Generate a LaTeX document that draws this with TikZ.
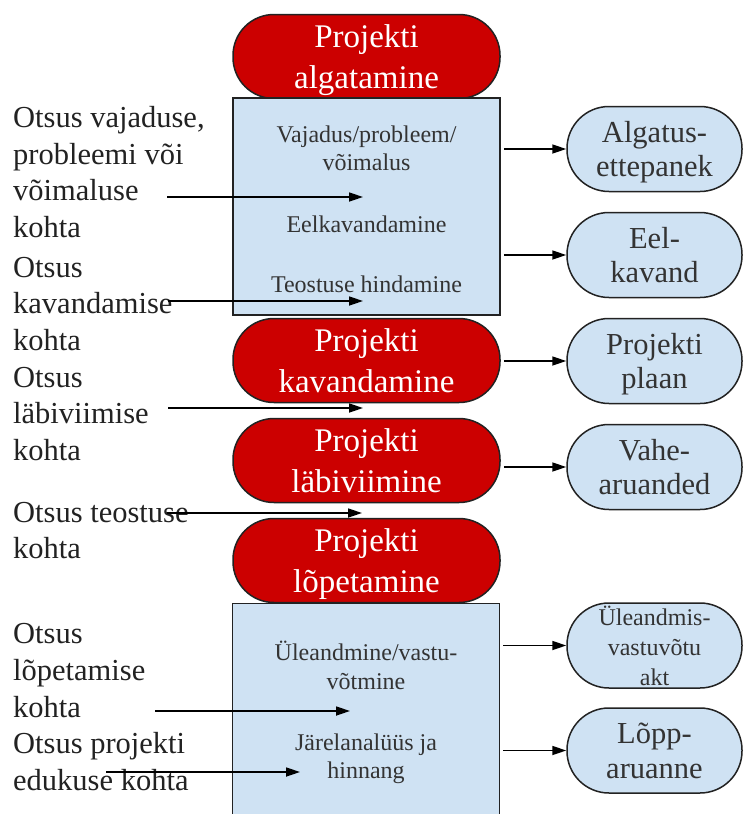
\documentclass[tikz,border=0pt]{standalone}
\usepackage{fontspec}
\setmainfont{Liberation Serif}
\usetikzlibrary{arrows.meta}
\definecolor{pillred}{HTML}{CC0000}
\definecolor{paleblue}{HTML}{CFE2F3}
\definecolor{ink}{HTML}{222222}
\definecolor{softink}{HTML}{333333}
\begin{document}
\begin{tikzpicture}[x=1pt,y=-1pt,
  redpill/.style={draw=ink, line width=1.5pt, fill=pillred, rounded corners=41pt,
    minimum width=267pt, minimum height=84pt, text=white, align=center,
    font=\fontsize{33}{40.5}\selectfont, inner sep=0pt},
  bluebox/.style={draw=ink, line width=1.5pt, fill=paleblue, minimum width=267pt,
    minimum height=217pt, inner sep=0pt},
  outpill/.style={draw=ink, line width=1.5pt, fill=paleblue, rounded corners=42pt,
    minimum width=175pt, minimum height=85pt, text=softink, align=center,
    font=\fontsize{30.5}{34.5}\selectfont, inner sep=0pt},
  boxtext/.style={anchor=base, text=softink, font=\fontsize{24}{28.5}\selectfont, inner sep=0pt},
  sidetext/.style={anchor=base west, text=ink, font=\fontsize{30.5}{36.7}\selectfont, inner sep=0pt},
  arr/.style={draw=black, line width=1.7pt, -{Triangle[length=14pt,width=9pt]}},
]
\clip (0,0) rectangle (745,814);
\fill[white] (0,0) rectangle (745,814);

% central column
\node[redpill] (p1) at (366.5,56.5) {Projekti\\\smash{algatamine}};
\node[bluebox] (box1) at (366.5,206.5) {};
\node[redpill] (p2) at (366.5,360.5) {Projekti\\\smash{kavandamine}};
\node[redpill] (p3) at (366.5,460.5) {Projekti\\\smash{läbiviimine}};
\node[redpill] (p4) at (366.5,560.5) {Projekti\\\smash{lõpetamine}};
\node[bluebox] (box2) at (366,712) {};

% texts inside boxes
\node[boxtext] (b1a) at (366.5,142) {Vajadus/probleem/};
\node[boxtext] (b1b) at (366.5,170) {võimalus};
\node[boxtext] (b1c) at (366.5,232) {Eelkavandamine};
\node[boxtext] (b1d) at (366.5,292) {Teostuse hindamine};
\node[boxtext] (b2a) at (366,660) {Üleandmine/vastu-};
\node[boxtext] (b2b) at (366,689) {võtmine};
\node[boxtext] (b2c) at (366,750) {Järelanalüüs ja};
\node[boxtext] (b2d) at (366,778) {hinnang};

% output pills
\node[outpill] (r1) at (654.5,149) {Algatus-\\\smash{ettepanek}};
\node[outpill] (r2) at (654.5,255) {Eel-\\\smash{kavand}};
\node[outpill] (r3) at (654.5,361) {Projekti\\\smash{plaan}};
\node[outpill] (r4) at (654.5,467) {Vahe-\\\smash{aruanded}};
\node[outpill, font=\fontsize{24}{30}\selectfont] (r5) at (654.5,645.5) {Üleandmis-\\vastuvõtu\\\smash{akt}};
\node[outpill] (r6) at (654.5,750.5) {Lõpp-\\\smash{aruanne}};

% arrows to outputs
\draw[arr, shorten <=3pt] (box1.east |- r1.west) -- (r1.west);
\draw[arr, shorten <=3pt] (box1.east |- r2.west) -- (r2.west);
\draw[arr, shorten <=3pt] (p2.east |- r3.west) -- (r3.west);
\draw[arr, shorten <=3pt] (p3.east |- r4.west) -- (r4.west);
\draw[arr, shorten <=3pt] (box2.east |- r5.west) -- (r5.west);
\draw[arr, shorten <=3pt] (box2.east |- r6.west) -- (r6.west);

% left decision labels
\node[sidetext] (l1) at (13,127) {Otsus vajaduse,};
\node[sidetext] (l2) at (13,164) {probleemi või};
\node[sidetext] (l3) at (13,200) {võimaluse};
\node[sidetext] (l4) at (13,237) {kohta};
\node[sidetext] (l5) at (13,277) {Otsus};
\node[sidetext] (l6) at (13,313) {kavandamise};
\node[sidetext] (l7) at (13,350) {kohta};
\node[sidetext] (l8) at (13,387) {Otsus};
\node[sidetext] (l9) at (13,423) {läbiviimise};
\node[sidetext] (l10) at (13,460) {kohta};
\node[sidetext] (l11) at (13,522) {Otsus teostuse};
\node[sidetext] (l12) at (13,558) {kohta};
\node[sidetext] (l13) at (13,643) {Otsus};
\node[sidetext] (l14) at (13,680) {lõpetamise};
\node[sidetext] (l15) at (13,717) {kohta};
\node[sidetext] (l16) at (13,753) {Otsus projekti};
\node[sidetext] (l17) at (13,790) {edukuse kohta};

% decision arrows
\coordinate (s1) at (167,197); \coordinate (e1) at (363,197);
\coordinate (s2) at (168,301); \coordinate (e2) at (363,301);
\coordinate (s3) at (168,408); \coordinate (e3) at (363,408);
\coordinate (s4) at (167,513); \coordinate (e4) at (362,513);
\coordinate (s5) at (155,711); \coordinate (e5) at (350,711);
\coordinate (s6) at (106,772); \coordinate (e6) at (300,772);
\draw[arr] (s1) -- (e1);
\draw[arr] (s2) -- (e2);
\draw[arr] (s3) -- (e3);
\draw[arr] (s4) -- (e4);
\draw[arr] (s5) -- (e5);
\draw[arr] (s6) -- (e6);
\end{tikzpicture}
\end{document}
